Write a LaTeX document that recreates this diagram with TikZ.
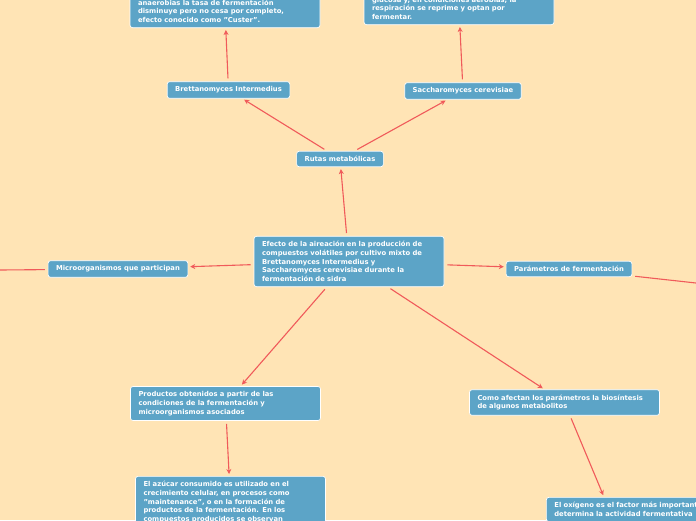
\documentclass[tikz,border=0pt]{standalone}
\usepackage{fontspec}
\setmainfont{DejaVu Sans}
\usetikzlibrary{arrows.meta}
\definecolor{paper}{RGB}{255,228,181}
\definecolor{boxblue}{RGB}{92,164,199}
\definecolor{linkred}{RGB}{240,90,90}

\begin{document}
\begin{tikzpicture}[x=1pt,y=-1pt,
    topic/.style={draw=white,line width=0.7pt,fill=boxblue,rounded corners=2.5pt,text=white,
      font=\bfseries\fontsize{6.8}{8.7}\selectfont,inner xsep=8pt,inner ysep=5pt,align=left},
    wide/.style={topic,text width=174pt},
    link/.style={draw=linkred,line width=1.1pt,-{Stealth[length=5pt,width=5pt]},shorten <=3pt,shorten >=2pt},
    plain/.style={draw=linkred,line width=1.1pt}]
    \useasboundingbox (0,0) rectangle (696,520);
    \clip (0,0) rectangle (696,520);
    \fill[paper] (0,0) rectangle (696,520);

    % centre and main branches
    \node[wide] (efecto) at (349,261.5) {Efecto de la aireación en la producción de\\compuestos volátiles por cultivo mixto de\\Brettanomyces Intermedius y\\Saccharomyces cerevisiae durante la\\fermentación de sidra};
    \node[topic] (rutas) at (340,159) {Rutas metabólicas};
    \node[topic] (brett) at (228.5,90) {Brettanomyces Intermedius};
    \node[topic] (sacch) at (463,91) {Saccharomyces cerevisiae};
    \node[wide,anchor=south] (custer) at (225,28) {anaerobias la tasa de fermentación\\disminuye pero no cesa por completo,\\efecto conocido como "Custer".};
    \node[wide,anchor=south] (fermentar) at (459,25) {glucosa y, en condiciones aerobias, la\\respiración se reprime y optan por\\fermentar.};
    \node[topic] (micro) at (118,269) {Microorganismos que participan};
    \node[topic] (param) at (569,269) {Parámetros de fermentación};
    \node[wide] (productos) at (225.5,403.5) {Productos obtenidos a partir de las\\condiciones de la fermentación y\\microorganismos asociados};
    \node[wide] (como) at (564.5,402.5) {Como afectan los parámetros la biosíntesis\\de algunos metabolitos};
    \node[wide,anchor=north] (azucar) at (230.5,476) {El azúcar consumido es utilizado en el\\crecimiento celular, en procesos como\\"maintenance", o en la formación de\\productos de la fermentación. En los\\compuestos producidos se observan};
    \node[wide,anchor=north west] (oxigeno) at (546,497) {El oxígeno es el factor más importante\\determina la actividad fermentativa};

    \coordinate (leftend) at (0,270);
    \coordinate (rightend) at (696,283);
    \coordinate (oxtop) at (604,497);

    % connectors
    \draw[link] (efecto) -- (rutas);
    \draw[link] (rutas) -- (brett);
    \draw[link] (rutas) -- (sacch);
    \draw[link] (brett) -- (custer);
    \draw[link] (sacch) -- (fermentar);
    \draw[link] (efecto) -- (micro);
    \draw[link] (efecto) -- (param);
    \draw[link] (efecto) -- (productos);
    \draw[link] (efecto) -- (como);
    \draw[link] (productos) -- (azucar);
    \draw[link] (como) -- (oxtop);
    \draw[plain,shorten <=3pt] (micro) -- (leftend);
    \draw[plain,shorten <=3pt] (param) -- (rightend);
\end{tikzpicture}
\end{document}
